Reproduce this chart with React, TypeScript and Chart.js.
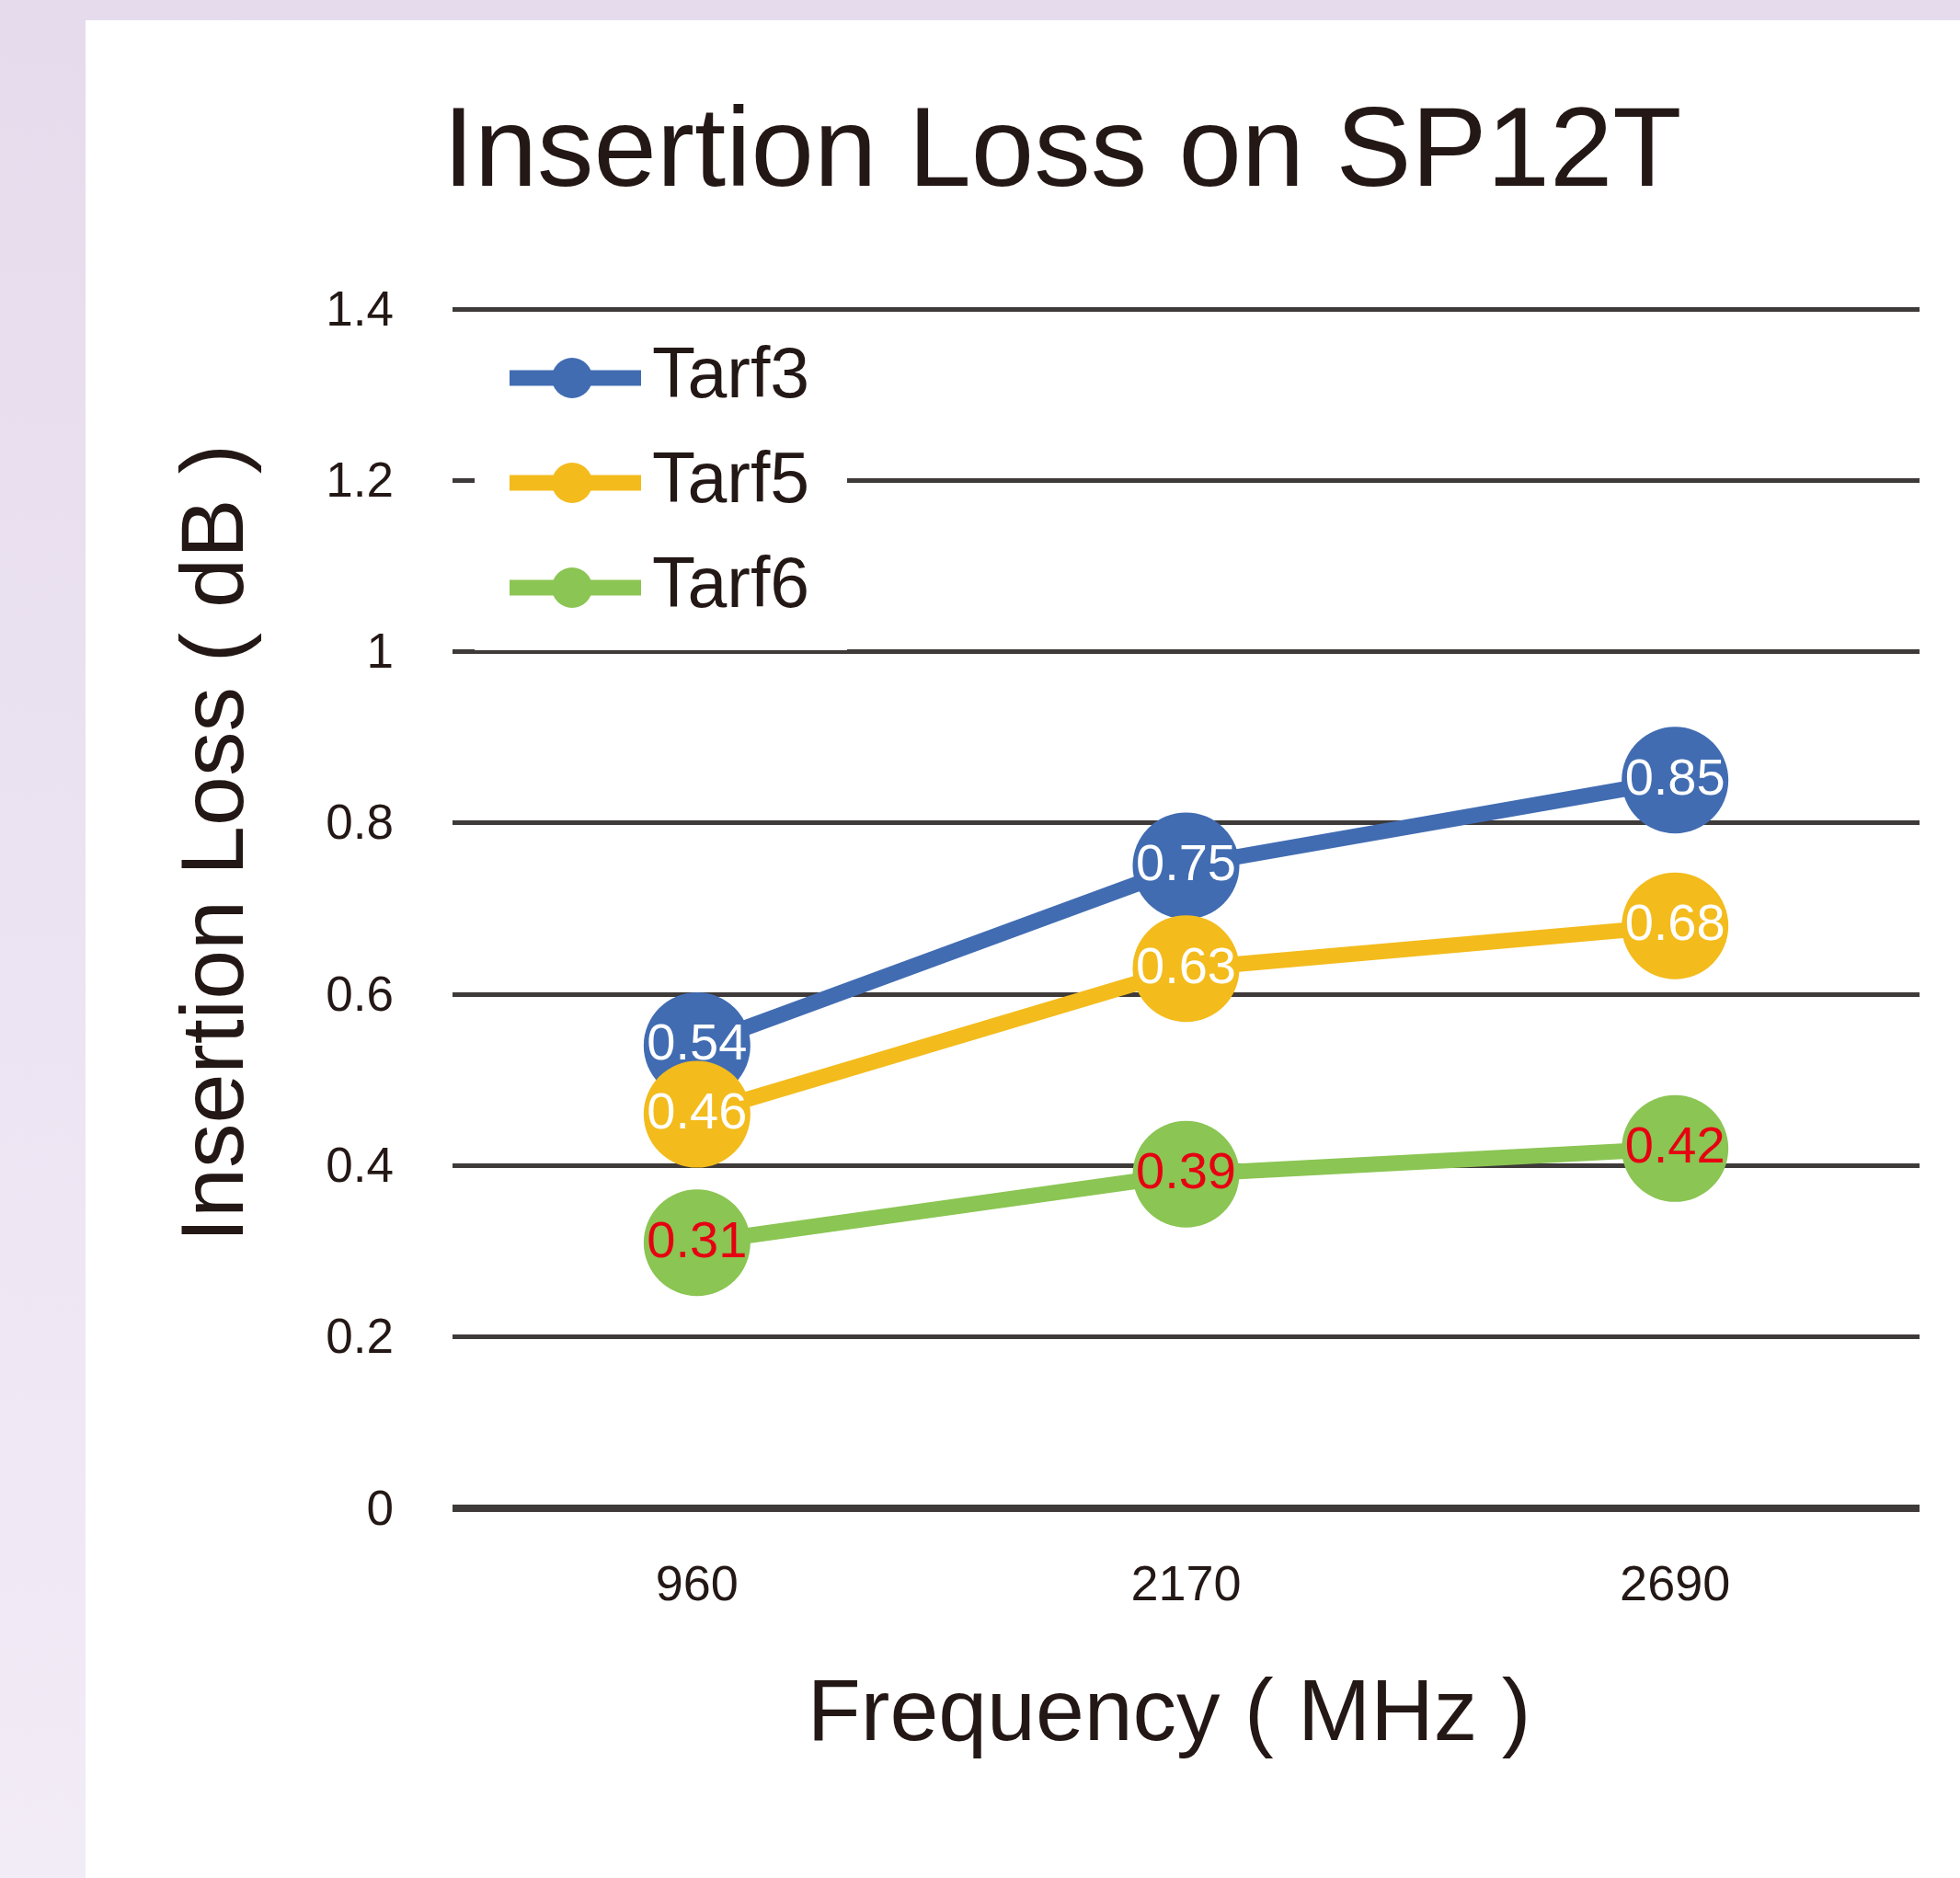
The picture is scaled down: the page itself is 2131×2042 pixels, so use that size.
import React, { useEffect, useRef } from 'react';
import { Chart, registerables } from 'chart.js';

Chart.register(...registerables);

const W = 2131;
const H = 2042;
const FONT = '"Liberation Sans", Arial, Helvetica, sans-serif';
const TEXT = '#231815';
const GRID = '#3e3a39';

// ---- data ----
const categories = ['960', '2170', '2690'];
const seriesNames = ['Tarf3', 'Tarf5', 'Tarf6'];
const tarf3 = [0.54, 0.75, 0.85];
const tarf5 = [0.46, 0.63, 0.68];
const tarf6 = [0.31, 0.39, 0.42];
const yTickValues = [0, 0.2, 0.4, 0.6, 0.8, 1, 1.2, 1.4];
const seriesColors = ['#416cb2', '#f3bb1c', '#8bc553'];
const labelColors = ['#ffffff', '#ffffff', '#e60012'];
const titleText = 'Insertion Loss on SP12T';
const xTitleText = 'Frequency ( MHz )';
const yTitleText = 'Insertion Loss ( dB )';

const legendPlugin = {
  id: 'customLegend',
  beforeDatasetsDraw(chart: any) {
    const { ctx, chartArea } = chart;
    const left = chartArea.left;
    const top = chartArea.top;
    ctx.save();
    ctx.fillStyle = '#ffffff';
    ctx.fillRect(left + 24, top + 9, 405, 362);
    chart.data.datasets.forEach((ds: any, i: number) => {
      const y = top + 75 + i * 114;
      ctx.strokeStyle = ds.borderColor;
      ctx.lineWidth = 17;
      ctx.lineCap = 'butt';
      ctx.beginPath();
      ctx.moveTo(left + 62, y);
      ctx.lineTo(left + 205, y);
      ctx.stroke();
      ctx.fillStyle = ds.borderColor;
      ctx.beginPath();
      ctx.arc(left + 130, y, 22, 0, Math.PI * 2);
      ctx.fill();
      ctx.fillStyle = TEXT;
      ctx.font = `77px ${FONT}`;
      ctx.textAlign = 'left';
      ctx.textBaseline = 'middle';
      ctx.fillText(ds.label, left + 217, y);
    });
    ctx.restore();
  },
};

const dataLabelPlugin = {
  id: 'dataLabels',
  afterDatasetsDraw(chart: any) {
    const { ctx } = chart;
    ctx.save();
    ctx.font = `56px ${FONT}`;
    ctx.textAlign = 'center';
    ctx.textBaseline = 'middle';
    chart.data.datasets.forEach((ds: any, i: number) => {
      const meta = chart.getDatasetMeta(i);
      meta.data.forEach((el: any, j: number) => {
        ctx.fillStyle = ds.labelColor;
        ctx.fillText((ds.data[j] as number).toFixed(2), el.x, el.y);
      });
    });
    ctx.restore();
  },
};

const titlesPlugin = {
  id: 'titles',
  afterDraw(chart: any) {
    const { ctx, chartArea } = chart;
    ctx.save();
    ctx.fillStyle = TEXT;
    ctx.textAlign = 'center';
    ctx.textBaseline = 'alphabetic';
    ctx.font = `123px ${FONT}`;
    ctx.fillText(titleText, 1155, 202);
    ctx.font = `95px ${FONT}`;
    ctx.fillText(xTitleText, 1271, chartArea.bottom + 252);
    ctx.font = `97px ${FONT}`;
    ctx.translate(264, 917);
    ctx.rotate(-Math.PI / 2);
    ctx.fillText(yTitleText, 0, 0);
    ctx.restore();
  },
};

export default function App() {
  const ref = useRef<HTMLCanvasElement | null>(null);

  useEffect(() => {
    if (!ref.current) return;
    const datasets = [tarf3, tarf5, tarf6].map((data, i) => ({
      label: seriesNames[i],
      data,
      borderColor: seriesColors[i],
      backgroundColor: seriesColors[i],
      pointBackgroundColor: seriesColors[i],
      pointBorderWidth: 0,
      pointRadius: 58,
      pointHoverRadius: 58,
      borderWidth: 17,
      tension: 0,
      clip: false as any,
      order: 3 - i,
      labelColor: labelColors[i],
    }));
    const chart = new Chart(ref.current, {
      type: 'line',
      data: { labels: categories, datasets: datasets as any },
      options: {
        responsive: false,
        animation: false,
        devicePixelRatio: 1,
        events: [],
        layout: { autoPadding: false, padding: { left: 100, right: 44, top: 336, bottom: 252 } },
        plugins: {
          legend: { display: false },
          title: { display: false },
          tooltip: { enabled: false },
        },
        scales: {
          x: {
            offset: true,
            grid: { display: false, drawTicks: false },
            border: { display: false },
            ticks: { font: { size: 54, family: FONT }, color: TEXT, padding: 53 },
            afterFit: (s: any) => {
              s.height = 150;
              s.paddingLeft = 0;
              s.paddingRight = 0;
            },
          },
          y: {
            min: 0,
            max: 1.4,
            afterBuildTicks: (s: any) => {
              s.ticks = yTickValues.map((v) => ({ value: v }));
            },
            grid: {
              color: GRID,
              lineWidth: (c: any) => (c.tick && c.tick.value === 0 ? 8 : 5),
              drawTicks: false,
            },
            border: { display: false },
            ticks: {
              font: { size: 53, family: FONT },
              color: TEXT,
              padding: 64,
              labelOffset: 3,
              callback: (v: any) => String(Number(Number(v).toFixed(1))),
            },
            afterFit: (s: any) => {
              s.width = 392;
              s.paddingTop = 0;
              s.paddingBottom = 0;
            },
          },
        },
      },
      plugins: [legendPlugin, dataLabelPlugin, titlesPlugin],
    });
    return () => chart.destroy();
  }, []);

  return (
    <div
      style={{
        position: 'fixed',
        left: 0,
        top: 0,
        width: W,
        height: H,
        background: 'linear-gradient(#e6dbec, #f2ecf7)',
        overflow: 'hidden',
      }}
    >
      <div style={{ position: 'absolute', left: 93, top: 22, right: 0, bottom: 0, background: '#ffffff' }} />
      <canvas ref={ref} width={W} height={H} style={{ position: 'absolute', left: 0, top: 0 }} />
    </div>
  );
}
